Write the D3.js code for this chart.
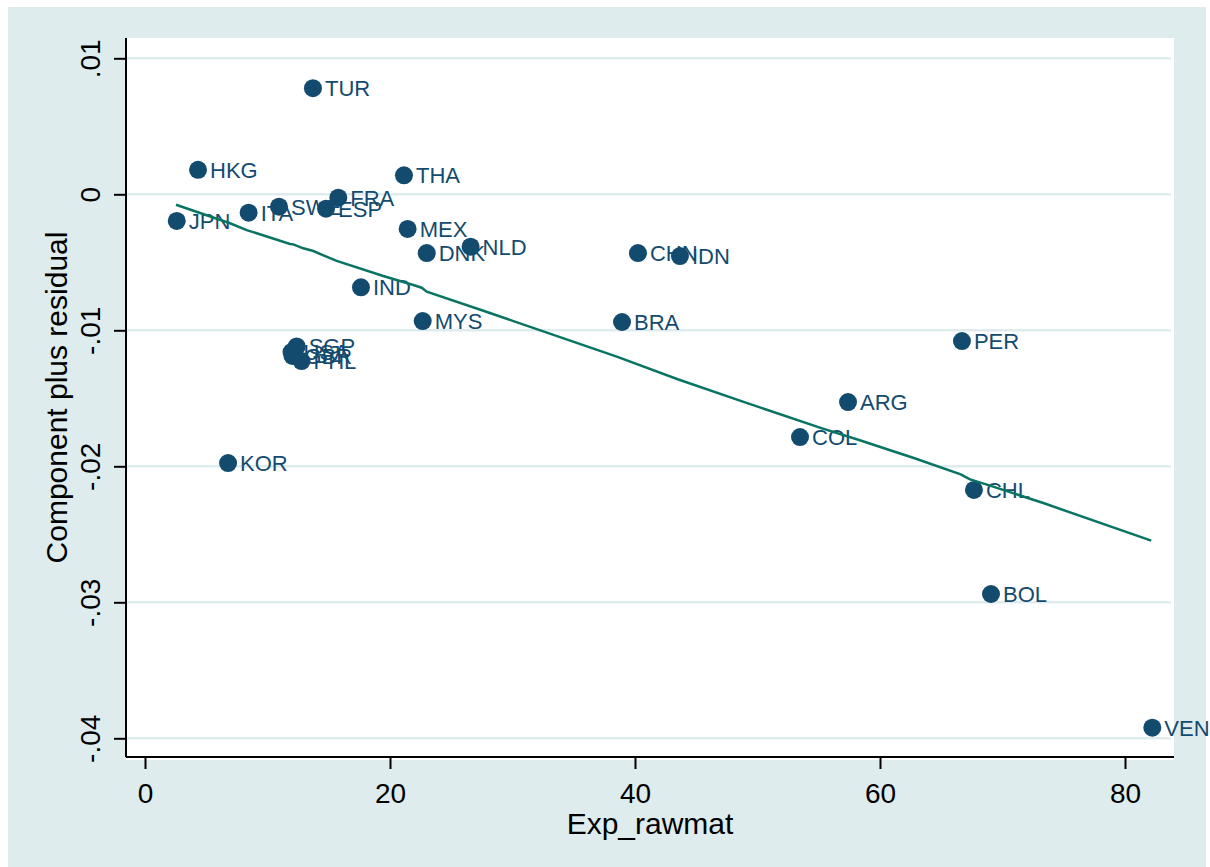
<!DOCTYPE html>
<html>
<head>
<meta charset="utf-8">
<script src="https://d3js.org/d3.v7.min.js"></script>
<style>
  html, body { margin: 0; padding: 0; background: #ffffff; }
  svg { display: block; }
  text { font-family: "Liberation Sans", Arial, Helvetica, sans-serif; }
</style>
</head>
<body>
<svg id="chart" width="1210" height="867"></svg>
<script>
// ---- data ----
const countries = ["TUR","HKG","THA","JPN","ITA","SWE","ESP","FRA","MEX","DNK","NLD","IND","MYS",
                   "GBR","USA","SGP","PHL","CHN","IDN","BRA","PER","ARG","COL","KOR","CHL","BOL","VEN"];
const expRawmat = [13.71, 4.33, 21.14, 2.59, 8.46, 10.94, 14.78, 15.78, 21.44, 23.0, 26.58, 17.63, 22.67,
                   12.04, 11.96, 12.38, 12.78, 40.24, 43.67, 38.94, 66.69, 57.39, 53.47, 6.78, 67.67, 69.06, 82.23];
const compResid = [0.0078, 0.0018, 0.0014, -0.00196, -0.00135, -0.00091, -0.00106, -0.00025, -0.00255, -0.00432, -0.00385, -0.00684, -0.00932,
                   -0.01189, -0.0116, -0.01119, -0.01226, -0.00432, -0.00454, -0.00939, -0.01079, -0.01528, -0.01785, -0.01976, -0.02174, -0.02939, -0.03922];

// smoothed fit line
const lineX = [2.53, 6.94, 8.30, 11.84, 12.11, 12.92, 13.74, 14.56, 15.65, 19.45, 21.90, 22.59, 23.0, 27.62,
               38.51, 43.49, 49.22, 55.27, 58.29, 62.82, 66.59, 67.35, 68.86, 73.39, 82.14];
const lineY = [-0.000765, -0.00213, -0.00263, -0.00365, -0.00368, -0.00397, -0.00417, -0.00449, -0.0049, -0.00601, -0.00667, -0.00687, -0.00716, -0.00856,
               -0.01194, -0.0136, -0.01537, -0.01721, -0.01807, -0.01941, -0.02059, -0.02096, -0.02138, -0.02272, -0.02547];

const xTicks = [0, 20, 40, 60, 80];
const yTicks = [0.01, 0, -0.01, -0.02, -0.03, -0.04];
const yTickLabels = [".01", "0", "-.01", "-.02", "-.03", "-.04"];
const xTitle = "Exp_rawmat";
const yTitle = "Component plus residual";

// ---- layout ----
const bgColor = "#dfecee";
const markColor = "#134b6f";
const fitColor = "#087461";
const plot = { left: 126, top: 38, right: 1174, bottom: 757 };

const svg = d3.select("#chart");

svg.append("rect").attr("x", 8).attr("y", 7).attr("width", 1198).attr("height", 860).attr("fill", bgColor);
svg.append("rect").attr("x", plot.left).attr("y", plot.top)
   .attr("width", plot.right - plot.left).attr("height", plot.bottom - plot.top + 3).attr("fill", "#ffffff");

const x = d3.scaleLinear().domain([-1.551, 84.0]).range([plot.left, plot.right]);
const y = d3.scaleLinear().domain([-0.041375, 0.011493]).range([plot.bottom, plot.top]);

// gridlines
svg.append("g").selectAll("line").data(yTicks).join("line")
   .attr("x1", plot.left).attr("x2", plot.right - 3)
   .attr("y1", d => y(d)).attr("y2", d => y(d))
   .attr("stroke", bgColor).attr("stroke-width", 2.5);

// axes
const yAxis = d3.axisLeft(y).tickValues(yTicks).tickSize(12).tickSizeOuter(0)
   .tickFormat((d, i) => yTickLabels[i]);
const gy = svg.append("g").attr("transform", `translate(${plot.left},0)`).call(yAxis);
gy.select(".domain").attr("stroke", "#000").attr("stroke-width", 2)
  .attr("d", `M0,${plot.top}V${plot.bottom}`);
gy.selectAll(".tick line").attr("stroke", "#000").attr("stroke-width", 2);
gy.selectAll(".tick text")
  .attr("x", null).attr("dy", null)
  .attr("transform", "translate(-26,0) rotate(-90)")
  .attr("text-anchor", "middle").attr("y", 0)
  .style("font-size", "28px").attr("fill", "#000");

const xAxis = d3.axisBottom(x).tickValues(xTicks).tickSize(12).tickSizeOuter(0).tickFormat(d3.format("d"));
const gx = svg.append("g").attr("transform", `translate(0,${plot.bottom})`).call(xAxis);
gx.select(".domain").attr("stroke", "#000").attr("stroke-width", 2)
  .attr("d", `M${plot.left},0H${plot.right}`);
gx.selectAll(".tick line").attr("stroke", "#000").attr("stroke-width", 2);
gx.selectAll(".tick text").attr("dy", null).attr("y", 46)
  .style("font-size", "28px").attr("fill", "#000");

// axis titles
svg.append("text").attr("x", (plot.left + plot.right) / 2).attr("y", 834)
   .attr("text-anchor", "middle").style("font-size", "30px").attr("fill", "#000").text(xTitle);
svg.append("text").attr("transform", `translate(67,${(plot.top + plot.bottom) / 2}) rotate(-90)`)
   .attr("text-anchor", "middle").style("font-size", "30px").attr("fill", "#000").text(yTitle);

// points with labels
const pts = countries.map((c, i) => ({ c, x: expRawmat[i], y: compResid[i] }));
const gp = svg.append("g");
pts.forEach(p => {
  gp.append("circle").attr("cx", x(p.x)).attr("cy", y(p.y)).attr("r", 9).attr("fill", markColor);
  gp.append("text").attr("x", x(p.x) + 12).attr("y", y(p.y) + 8)
    .style("font-size", "22px").attr("fill", markColor).text(p.c);
});

// fit line
const lineData = lineX.map((v, i) => [v, lineY[i]]);
svg.append("path").datum(lineData)
   .attr("d", d3.line().x(d => x(d[0])).y(d => y(d[1])))
   .attr("fill", "none").attr("stroke", fitColor).attr("stroke-width", 2.5);
</script>
</body>
</html>
